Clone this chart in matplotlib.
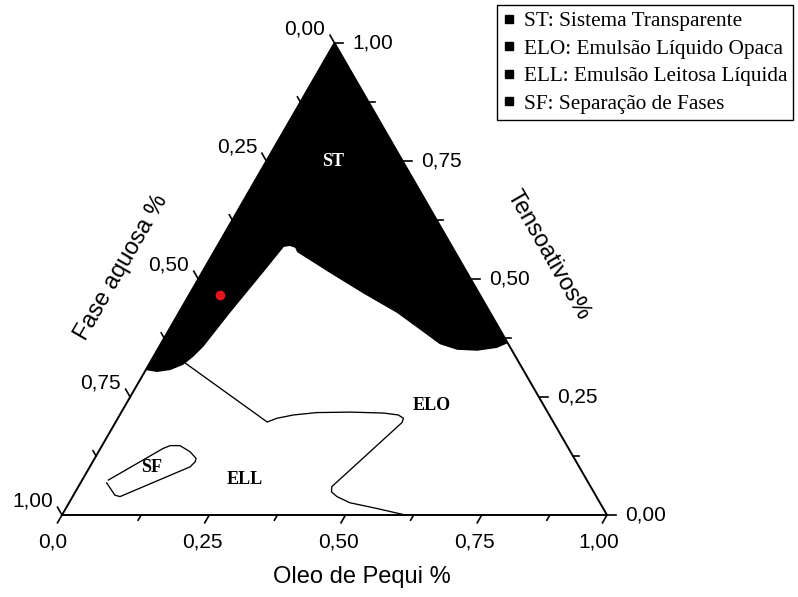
import numpy as np
import matplotlib.pyplot as plt
from matplotlib.lines import Line2D

# Compositions as (oleo, tensoativo); fase aquosa = 1 - oleo - tensoativo

# ST region (black), traced from the top vertex clockwise
st_oleo = [0.0, 0.636, 0.621, 0.588, 0.550, 0.512, 0.487, 0.401, 0.317, 0.235, 0.153,
           0.145, 0.133, 0.123, 0.112, 0.094, 0.081, 0.073, 0.063, 0.045, 0.023, 0.0]
st_tens = [1.0, 0.364, 0.354, 0.348, 0.350, 0.362, 0.377, 0.428, 0.470, 0.513, 0.557,
           0.566, 0.570, 0.568, 0.513, 0.428, 0.356, 0.335, 0.318, 0.307, 0.303, 0.307]

# ELL / ELO boundary line
ell_oleo = [0.065, 0.278, 0.292, 0.319, 0.359, 0.420, 0.482, 0.511, 0.524, 0.526,
            0.465, 0.470, 0.485, 0.515, 0.570, 0.630]
ell_tens = [0.322, 0.197, 0.205, 0.212, 0.217, 0.218, 0.216, 0.212, 0.205, 0.196,
            0.060, 0.049, 0.039, 0.026, 0.014, 0.0]

# SF closed loop
sf_oleo = [0.048, 0.076, 0.087, 0.184, 0.188, 0.186, 0.168, 0.143, 0.125, 0.115, 0.048]
sf_tens = [0.068, 0.042, 0.039, 0.102, 0.113, 0.120, 0.134, 0.147, 0.147, 0.141, 0.074]

# red sample point
ponto_oleo = [0.057]
ponto_tens = [0.466]

# region labels
reg_nomes = ['ST', 'ELO', 'ELL', 'SF']
reg_oleo = [0.123, 0.562, 0.298, 0.114]
reg_tens = [0.748, 0.233, 0.076, 0.100]
reg_cores = ['white', 'black', 'black', 'black']

leg_labels = ['ST: Sistema Transparente', 'ELO: Emulsão Líquido Opaca',
              'ELL: Emulsão Leitosa Líquida', 'SF: Separação de Fases']

ticks = np.arange(0, 1.0001, 0.125)

SQ = np.sqrt(3) / 2


def tern(a, t):
    a = np.asarray(a, dtype=float)
    t = np.asarray(t, dtype=float)
    return a + t / 2, t * SQ


sans = 'Liberation Sans'
serif = 'Liberation Serif'

fig = plt.figure(figsize=(7.98, 5.97), dpi=100)
ax = fig.add_axes([0, 0, 1, 1])
ax.set_xlim(-62 / 545, 736 / 545)
ax.set_ylim(-82 / 545, 515 / 545)
ax.axis('off')

# ST area
x, y = tern(st_oleo, st_tens)
ax.fill(x, y, color='black', lw=0, zorder=2)

# boundaries
x, y = tern(ell_oleo, ell_tens)
ax.plot(x, y, color='black', lw=0.95, zorder=3)
x, y = tern(sf_oleo, sf_tens)
ax.plot(x, y, color='black', lw=0.95, zorder=3)

# triangle
x, y = tern([0, 1, 0, 0], [0, 0, 1, 0])
ax.plot(x, y, color='black', lw=1.4, zorder=4, solid_joinstyle='miter')

# ticks
big = 9 / 545
small = 6 / 545
shift = 11 / 545  # bottom interior ticks sit a little to the right in the original
for v in ticks:
    major = abs(v * 4 - round(v * 4)) < 1e-6
    L = big if major else small
    # bottom (oleo)
    bx = v + (shift if 0 < v < 1 else 0)
    ax.plot([bx, bx - 0.5 * L], [0, -SQ * L], color='black', lw=1.2, zorder=4)
    # left (fase aquosa = v)
    lx, ly = tern(0, 1 - v)
    ax.plot([lx, lx - 0.5 * L], [ly, ly + SQ * L], color='black', lw=1.2, zorder=4)
    # right (tensoativos = v)
    rx, ry = tern(1 - v, v)
    ax.plot([rx, rx + L], [ry, ry], color='black', lw=1.2, zorder=4)
    if major:
        txt = '{:.2f}'.format(v).replace('.', ',')
        dx = -7 if v == 0 else (-6 if v == 1 else 3)
        ax.annotate('0,0' if v == 0 else txt, (v, 0), xytext=(dx, -19.5),
                    textcoords='offset points', ha='center', va='center',
                    fontsize=15, family=sans)
        ax.annotate(txt, (lx, ly), xytext=(-6.5, 10), textcoords='offset points',
                    ha='right', va='center', fontsize=15, family=sans)
        ax.annotate(txt, (rx, ry), xytext=(13, 0), textcoords='offset points',
                    ha='left', va='center', fontsize=15, family=sans)

# axis titles
ax.annotate('Oleo de Pequi %', (0.55, 0), xytext=(0, -45), textcoords='offset points',
            ha='center', va='center', fontsize=17, family=sans)
x, y = tern(0, 0.5)
ax.annotate('Fase aquosa %', (x, y), xytext=(-55, 8), textcoords='offset points',
            ha='center', va='center', rotation=60, fontsize=17, family=sans)
x, y = tern(0.5, 0.5)
ax.annotate('Tensoativos%', (x, y), xytext=(56, 17), textcoords='offset points',
            ha='center', va='center', rotation=-60, fontsize=17, family=sans)

# red point
x, y = tern(ponto_oleo, ponto_tens)
ax.plot(x, y, 'o', color='#e3161e', markersize=6, zorder=5)

# region names
for nome, a, t, c in zip(reg_nomes, reg_oleo, reg_tens, reg_cores):
    x, y = tern(a, t)
    ax.text(x, y, nome, color=c, fontsize=13, fontweight='bold', family=serif,
            ha='center', va='center', zorder=6)

# legend
handles = [Line2D([], [], ls='none', marker='s', color='black', markersize=5.5)
           for _ in leg_labels]
leg = ax.legend(handles, leg_labels, loc='upper left',
                bbox_to_anchor=(497 / 798, 1 - 5 / 597), bbox_transform=fig.transFigure,
                prop={'family': serif, 'size': 15.3}, frameon=True, fancybox=False,
                edgecolor='black', framealpha=1, borderpad=0.3, labelspacing=0.36,
                handlelength=0.5, handletextpad=0.45, borderaxespad=0)
leg.get_frame().set_linewidth(1.0)

fig.savefig('out.png', dpi=100)
